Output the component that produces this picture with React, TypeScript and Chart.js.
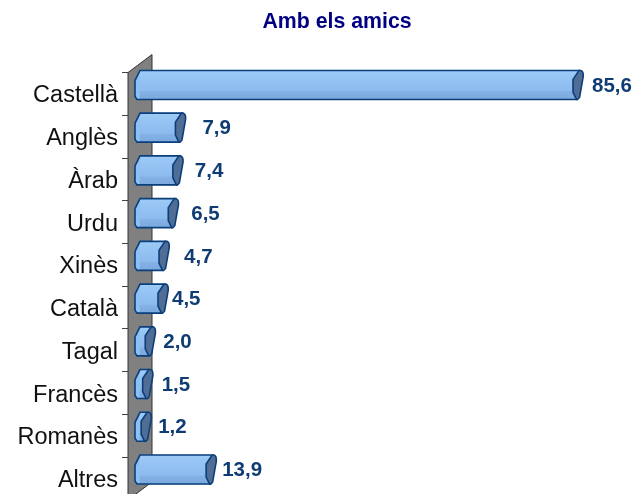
import React, { useEffect, useRef } from "react";
import { Chart, registerables } from "chart.js";

Chart.register(...registerables);

const titleText = "Amb els amics";
const categories = ["Castellà", "Anglès", "Àrab", "Urdu", "Xinès", "Català", "Tagal", "Francès", "Romanès", "Altres"];
const values = [85.6, 7.9, 7.4, 6.5, 4.7, 4.5, 2.0, 1.5, 1.2, 13.9];
const valueLabels = ["85,6", "7,9", "7,4", "6,5", "4,7", "4,5", "2,0", "1,5", "1,2", "13,9"];
const labelGaps = [14, 22, 17, 18, 20, 9, 13, 14, 12, 11];

const DEPTH_X = 24;
const DEPTH_Y = 18;
const BAR_H = 29;
const EDGE = "#0b3f7c";

function capPath(ctx: CanvasRenderingContext2D, c: number, y: number) {
  const t = y - BAR_H / 2;
  const b = y + BAR_H / 2;
  ctx.beginPath();
  ctx.moveTo(c + 1, t);
  ctx.lineTo(c + 3, t);
  ctx.quadraticCurveTo(c + 5.5, t + 1, c + 5.2, t + 6);
  ctx.lineTo(c + 1.5, b - 2);
  ctx.quadraticCurveTo(c, b + 0.5, c - 1.5, b);
  ctx.lineTo(c - 5, b - 7);
  ctx.lineTo(c - 5, t + 9);
  ctx.closePath();
}

function leftEndPath(ctx: CanvasRenderingContext2D, base: number, y: number) {
  const t = y - BAR_H / 2;
  const b = y + BAR_H / 2;
  ctx.moveTo(base + 2, t);
  ctx.lineTo(base, t);
  ctx.lineTo(base - 5, t + 10);
  ctx.lineTo(base - 5, b - 3);
  ctx.lineTo(base - 3, b);
  ctx.lineTo(base + 1, b);
}

const wallPlugin = {
  id: "wall",
  beforeDatasetsDraw(chart: any) {
    const { ctx, chartArea } = chart;
    const l = chartArea.left;
    ctx.save();
    ctx.fillStyle = "#808080";
    ctx.strokeStyle = "#333333";
    ctx.lineWidth = 1;
    ctx.beginPath();
    ctx.moveTo(l, chartArea.top);
    ctx.lineTo(l + DEPTH_X, chartArea.top - DEPTH_Y);
    ctx.lineTo(l + DEPTH_X, chartArea.bottom - DEPTH_Y);
    ctx.lineTo(l, chartArea.bottom);
    ctx.closePath();
    ctx.fill();
    ctx.stroke();
    ctx.restore();
  },
  beforeDatasetDraw(chart: any) {
    chart.ctx.save();
    chart.ctx.translate(DEPTH_X / 2, -DEPTH_Y / 2);
    const meta = chart.getDatasetMeta(0);
    const ctx = chart.ctx;
    meta.data.forEach((bar: any) => {
      ctx.beginPath();
      leftEndPath(ctx, bar.base, bar.y);
      ctx.closePath();
      ctx.fillStyle = "#90c0f2";
      ctx.fill();
    });
  },
  afterDatasetDraw(chart: any) {
    const ctx = chart.ctx;
    const meta = chart.getDatasetMeta(0);
    meta.data.forEach((bar: any, i: number) => {
      const t = bar.y - BAR_H / 2;
      const b = bar.y + BAR_H / 2;
      ctx.strokeStyle = EDGE;
      ctx.lineWidth = 1.6;
      ctx.beginPath();
      leftEndPath(ctx, bar.base, bar.y);
      ctx.lineTo(bar.x, b);
      ctx.moveTo(bar.base + 2, t);
      ctx.lineTo(bar.x + 2, t);
      ctx.stroke();
      capPath(ctx, bar.x, bar.y);
      ctx.fillStyle = "#4f6d95";
      ctx.fill();
      ctx.stroke();
      ctx.fillStyle = "#0f3c73";
      ctx.font = "bold 20.5px 'Liberation Sans'";
      ctx.textAlign = "left";
      ctx.textBaseline = "middle";
      ctx.fillText(valueLabels[i], bar.x + labelGaps[i], bar.y + 1);
    });
    ctx.restore();
  },
};

export default function App() {
  const ref = useRef<HTMLCanvasElement>(null);
  useEffect(() => {
    const chart = new Chart(ref.current as HTMLCanvasElement, {
      type: "bar",
      plugins: [wallPlugin],
      data: {
        labels: categories,
        datasets: [
          {
            data: values,
            clip: false,
            barThickness: BAR_H,
            borderWidth: 0,
            backgroundColor: (c: any) => {
              const scale = c.chart.scales.y;
              if (!scale || c.dataIndex === undefined) return "#8bbcf0";
              const y = scale.getPixelForTick(c.dataIndex);
              const g = c.chart.ctx.createLinearGradient(0, y - BAR_H / 2, 0, y + BAR_H / 2);
              g.addColorStop(0, "#9ecbf7");
              g.addColorStop(0.35, "#93c2f3");
              g.addColorStop(0.7, "#8cbbee");
              g.addColorStop(0.72, "#84b2e6");
              g.addColorStop(1, "#7ca9dd");
              return g;
            },
          } as any,
        ],
      },
      options: {
        indexAxis: "y",
        animation: false,
        responsive: false,
        layout: { padding: 0 },
        plugins: {
          legend: { display: false },
          tooltip: { enabled: false },
          title: {
            display: true,
            text: titleText,
            color: "#000080",
            font: { family: "'Liberation Sans'", size: 21.3, weight: "bold" },
            padding: { top: 9, bottom: 38 },
          },
        },
        scales: {
          x: { display: false, min: 0, max: 106.7 },
          y: {
            afterFit: (s: any) => {
              s.width = 128;
            },
            border: { display: false },
            grid: { offset: true, drawOnChartArea: false, tickLength: 6, tickColor: "#444444", tickWidth: 1 },
            ticks: {
              autoSkip: false,
              color: "#111111",
              padding: 4,
              labelOffset: 2,
              font: { family: "'Liberation Sans'", size: 23.5 },
            },
          },
        },
      },
    } as any);
    return () => chart.destroy();
  }, []);
  return (
    <div style={{ position: "fixed", left: 0, top: 0, width: 636, height: 494, overflow: "hidden", background: "#fff" }}>
      <canvas ref={ref} width={674} height={518} style={{ display: "block" }} />
    </div>
  );
}
